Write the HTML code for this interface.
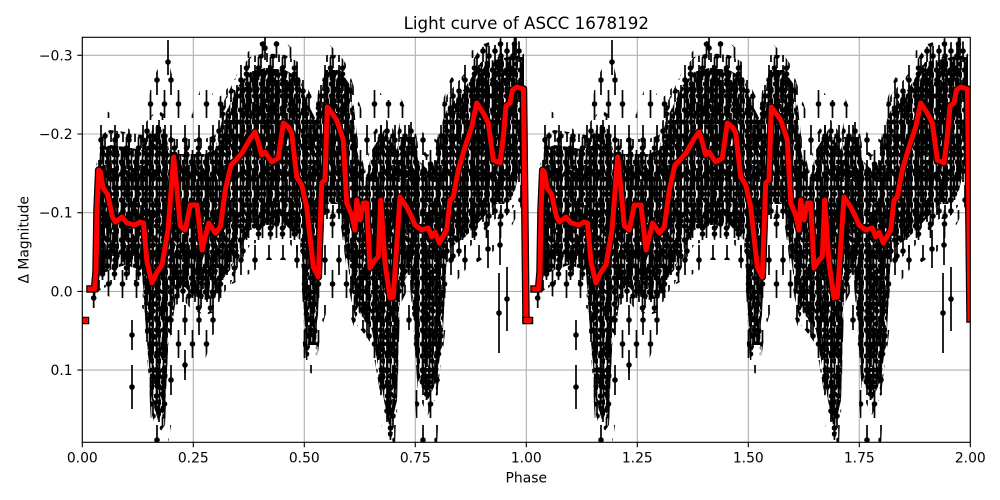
<!DOCTYPE html>
<html><head><meta charset="utf-8">
<style>html,body{margin:0;padding:0;background:#fff;}svg{display:block}</style>
</head>
<body>
<svg width="1000" height="500" viewBox="0 0 1000 500" xmlns="http://www.w3.org/2000/svg" xmlns:xlink="http://www.w3.org/1999/xlink" font-family="'DejaVu Sans','Liberation Sans',sans-serif">
<defs>
<clipPath id="c"><rect x="82.3" y="37.3" width="888" height="405"/></clipPath>
<pattern id="pS" width="14" height="60" patternUnits="userSpaceOnUse">
<path d="M3 5V35M10.5 30V58" stroke="#000" stroke-width="1.7"/>
<circle cx="3" cy="20" r="2.8"/><circle cx="10.5" cy="44" r="2.8"/>
</pattern>
<pattern id="pA" width="12" height="40" patternUnits="userSpaceOnUse">
<path d="M3 0V22M6.5 17V40M9 5V28" stroke="#000" stroke-width="1.7"/>
<circle cx="3" cy="11" r="2.8"/><circle cx="6.5" cy="28" r="2.8"/><circle cx="6.5" cy="34" r="2.8"/><circle cx="9" cy="16" r="2.8"/>
</pattern>
<pattern id="pB" width="10" height="33" patternUnits="userSpaceOnUse">
<path d="M3 3V25M7 14V33M7 0V4" stroke="#000" stroke-width="1.7"/>
<circle cx="3" cy="14" r="2.8"/><circle cx="7" cy="23" r="2.8"/><circle cx="5" cy="7" r="2.8"/>
</pattern>
<pattern id="pD" width="7" height="26" patternUnits="userSpaceOnUse">
<path d="M2.5 0V26M5.5 0V26" stroke="#000" stroke-width="1.7"/>
<circle cx="2.5" cy="6" r="2.8"/><circle cx="2.5" cy="18" r="2.8"/><circle cx="5.5" cy="12" r="2.8"/><circle cx="5.5" cy="23" r="2.8"/>
</pattern>
</defs>
<rect width="1000" height="500" fill="#fff"/>
<g stroke="#b0b0b0" stroke-width="1.1" fill="none">
<path d="M82.3 37.3V442.3M193.3 37.3V442.3M304.3 37.3V442.3M415.3 37.3V442.3M526.3 37.3V442.3M637.3 37.3V442.3M748.3 37.3V442.3M859.3 37.3V442.3M970.3 37.3V442.3"/>
<path d="M82.3 55.3H970.3M82.3 134H970.3M82.3 212.7H970.3M82.3 291.4H970.3M82.3 370.1H970.3"/>
</g>
<g clip-path="url(#c)">
<g id="cy">
<path fill="url(#pS)" d="M93 285 L97 150 L100 110 L105 110 L118 118 L130 130 L145 120 L152 80 L160 65 L168 60 L172 75 L180 90 L192 115 L205 75 L215 100 L222 95 L230 85 L240 60 L255 45 L265 40 L285 42 L300 55 L304 95 L315 110 L321 75 L330 45 L345 60 L355 90 L365 120 L372 80 L385 100 L395 100 L400 95 L410 120 L418 130 L437 140 L443 100 L450 80 L465 55 L481 45 L495 40 L510 35 L524 35 L524 200 L510 230 L495 250 L481 260 L465 270 L450 290 L443 350 L437 445 L418 445 L410 330 L400 330 L395 445 L385 445 L372 370 L365 330 L355 330 L345 300 L330 300 L321 330 L315 375 L304 370 L300 270 L285 260 L265 260 L255 270 L240 280 L230 285 L222 300 L215 330 L205 360 L192 370 L180 375 L172 420 L168 445 L160 445 L152 442 L145 310 L130 300 L118 300 L105 295 L100 300 L97 300 L93 310Z"/>
<path fill="url(#pA)" d="M95 185 L100 135 L110 130 L125 132 L142 135 L146 122 L152 115 L158 110 L165 115 L169 135 L175 139 L185 139 L192 139 L205 139 L215 135 L222 105 L230 89 L239 70 L250 57 L265 53 L285 55 L300 63 L306 85 L316 105 L321 80 L325 55 L340 55 L350 70 L357 135 L365 172 L372 135 L384 115 L390 125 L397 135 L400 122 L410 122 L414 122 L418 145 L428 155 L437 145 L443 105 L447 95 L465 73 L481 47 L495 45 L504 43 L515 40 L524 43 L524 165 L515 205 L504 219 L495 219 L481 235 L465 252 L447 265 L443 345 L437 395 L428 415 L418 395 L414 335 L410 285 L400 305 L397 415 L390 445 L384 415 L372 345 L365 335 L357 325 L350 295 L340 219 L325 219 L321 245 L316 360 L306 360 L300 255 L285 239 L265 240 L250 245 L239 265 L230 285 L222 295 L215 312 L205 315 L192 310 L185 302 L175 305 L169 345 L165 425 L158 435 L152 415 L146 345 L142 285 L125 280 L110 285 L100 290 L95 295Z"/>
<path id="core" fill="url(#pD)" d="M97 200 L100 150 L110 145 L125 147 L142 150 L146 137 L152 130 L158 125 L165 130 L169 150 L175 154 L185 154 L192 154 L205 154 L215 150 L222 120 L230 104 L239 85 L250 72 L265 68 L285 70 L300 78 L306 100 L316 120 L321 95 L325 70 L340 70 L350 85 L357 150 L365 187 L372 150 L384 130 L390 140 L397 150 L400 137 L410 137 L414 137 L418 160 L428 170 L437 160 L443 120 L447 110 L465 88 L481 62 L495 60 L504 58 L515 55 L524 58 L524 150 L515 190 L504 204 L495 204 L481 220 L465 237 L447 250 L443 330 L437 380 L428 400 L418 380 L414 320 L410 270 L400 290 L397 400 L390 430 L384 400 L372 330 L365 320 L357 310 L350 280 L340 204 L325 204 L321 230 L316 345 L306 345 L300 240 L285 224 L265 225 L250 230 L239 250 L230 270 L222 280 L215 297 L205 300 L192 295 L185 287 L175 290 L169 330 L165 410 L158 420 L152 400 L146 330 L142 270 L125 265 L110 270 L100 275 L97 285Z"/>
<path fill="url(#pB)" d="M97 200 L100 150 L110 145 L125 147 L142 150 L146 137 L152 130 L158 125 L165 130 L169 150 L175 154 L185 154 L192 154 L205 154 L215 150 L222 120 L230 104 L239 85 L250 72 L265 68 L285 70 L300 78 L306 100 L316 120 L321 95 L325 70 L340 70 L350 85 L357 150 L365 187 L372 150 L384 130 L390 140 L397 150 L400 137 L410 137 L414 137 L418 160 L428 170 L437 160 L443 120 L447 110 L465 88 L481 62 L495 60 L504 58 L515 55 L524 58 L524 150 L515 190 L504 204 L495 204 L481 220 L465 237 L447 250 L443 330 L437 380 L428 400 L418 380 L414 320 L410 270 L400 290 L397 400 L390 430 L384 400 L372 330 L365 320 L357 310 L350 280 L340 204 L325 204 L321 230 L316 345 L306 345 L300 240 L285 224 L265 225 L250 230 L239 250 L230 270 L222 280 L215 297 L205 300 L192 295 L185 287 L175 290 L169 330 L165 410 L158 420 L152 400 L146 330 L142 270 L125 265 L110 270 L100 275 L97 285Z"/>
<path d="M132 365V409M499 273V353M507 267V331M93.7 288V308M132 320V350M185 350V380M500 225V265M488 230V268M168 40V75M265 37V60M516 37V55" stroke="#000" stroke-width="1.7"/>
<circle cx="132" cy="387" r="2.8"/><circle cx="499" cy="313" r="2.8"/><circle cx="507" cy="299" r="2.8"/><circle cx="93.7" cy="298" r="2.8"/><circle cx="132" cy="335" r="2.8"/><circle cx="185" cy="365" r="2.8"/><circle cx="500" cy="245" r="2.8"/><circle cx="488" cy="249" r="2.8"/><circle cx="168" cy="62" r="2.8"/><circle cx="265" cy="48" r="2.8"/>
<path stroke="#000" stroke-width="7.5" fill="none" stroke-linejoin="round" stroke-linecap="square" d="M82 320.5H85.5M90 289L94.5 289L96 272L97 210L98.7 170L100.5 172L103 188L107.5 194L112.5 217L115.5 222L122 217L127 223L135 225L140 222L143.5 223L147 262L152 283L157 272L162 265L168 230L173.7 157L177 190L180.3 226L185.3 230L190.3 205L197 205L202 250L208.7 223L215.3 233L220.3 227L225.3 190L231 165L236 160L242 153L250 139L255 132L258.3 142L261.7 155L265 152L271.7 162L278.3 158L283.3 123L288.3 127L291.7 133L296.7 177L301.7 185L306.7 207L313.3 267L318.3 277L321.7 183L325 180L327.3 107L331.7 113L336.7 120L343.3 140L346.7 203L351.7 215L355 230L356.7 200L360 220L363.3 203L366.7 203L370 268L375 260L378.3 257L380.7 200L385 263L390 298L393.3 297L400 197L406.7 207L411.7 217L415 225L421.7 230L428.3 228L431.7 237L435 232L439.3 243L446.7 230L450 200L453.3 197L458.3 170L465 147L471.7 127L476.7 103L483.3 113L488.3 123L493.3 160L500 163L503.3 137L506 106L510 103L512.5 90L516.7 87L520 88L523.5 89L526 319"/>
<path stroke="#ff0000" stroke-width="5" fill="none" stroke-linejoin="round" stroke-linecap="square" d="M82 320.5H85.5M90 289L94.5 289L96 272L97 210L98.7 170L100.5 172L103 188L107.5 194L112.5 217L115.5 222L122 217L127 223L135 225L140 222L143.5 223L147 262L152 283L157 272L162 265L168 230L173.7 157L177 190L180.3 226L185.3 230L190.3 205L197 205L202 250L208.7 223L215.3 233L220.3 227L225.3 190L231 165L236 160L242 153L250 139L255 132L258.3 142L261.7 155L265 152L271.7 162L278.3 158L283.3 123L288.3 127L291.7 133L296.7 177L301.7 185L306.7 207L313.3 267L318.3 277L321.7 183L325 180L327.3 107L331.7 113L336.7 120L343.3 140L346.7 203L351.7 215L355 230L356.7 200L360 220L363.3 203L366.7 203L370 268L375 260L378.3 257L380.7 200L385 263L390 298L393.3 297L400 197L406.7 207L411.7 217L415 225L421.7 230L428.3 228L431.7 237L435 232L439.3 243L446.7 230L450 200L453.3 197L458.3 170L465 147L471.7 127L476.7 103L483.3 113L488.3 123L493.3 160L500 163L503.3 137L506 106L510 103L512.5 90L516.7 87L520 88L523.5 89L526 319"/>
</g>
<use href="#cy" xlink:href="#cy" transform="translate(444,0)"/>
</g>
<rect x="82.3" y="37.3" width="888" height="405" fill="none" stroke="#000" stroke-width="1.1"/>
<g stroke="#000" stroke-width="1.1">
<path d="M82.3 442.3v4.9M193.3 442.3v4.9M304.3 442.3v4.9M415.3 442.3v4.9M526.3 442.3v4.9M637.3 442.3v4.9M748.3 442.3v4.9M859.3 442.3v4.9M970.3 442.3v4.9"/>
<path d="M82.3 55.3h-4.9M82.3 134h-4.9M82.3 212.7h-4.9M82.3 291.4h-4.9M82.3 370.1h-4.9"/>
</g>
<g font-size="13.9" fill="#000" text-anchor="middle">
<text x="82.3" y="462.3">0.00</text>
<text x="193.3" y="462.3">0.25</text>
<text x="304.3" y="462.3">0.50</text>
<text x="415.3" y="462.3">0.75</text>
<text x="526.3" y="462.3">1.00</text>
<text x="637.3" y="462.3">1.25</text>
<text x="748.3" y="462.3">1.50</text>
<text x="859.3" y="462.3">1.75</text>
<text x="970.3" y="462.3">2.00</text>
<text x="526.3" y="482.5">Phase</text>
<text transform="translate(28.3,239.8) rotate(-90)">Δ Magnitude</text>
</g>
<g font-size="13.9" fill="#000" text-anchor="end">
<text x="72.6" y="60.3">−0.3</text>
<text x="72.6" y="139">−0.2</text>
<text x="72.6" y="217.7">−0.1</text>
<text x="72.6" y="296.4">0.0</text>
<text x="72.6" y="375.1">0.1</text>
</g>
<text x="526.3" y="29" font-size="16.7" text-anchor="middle" fill="#000">Light curve of ASCC 1678192</text>
</svg>
</body></html>
